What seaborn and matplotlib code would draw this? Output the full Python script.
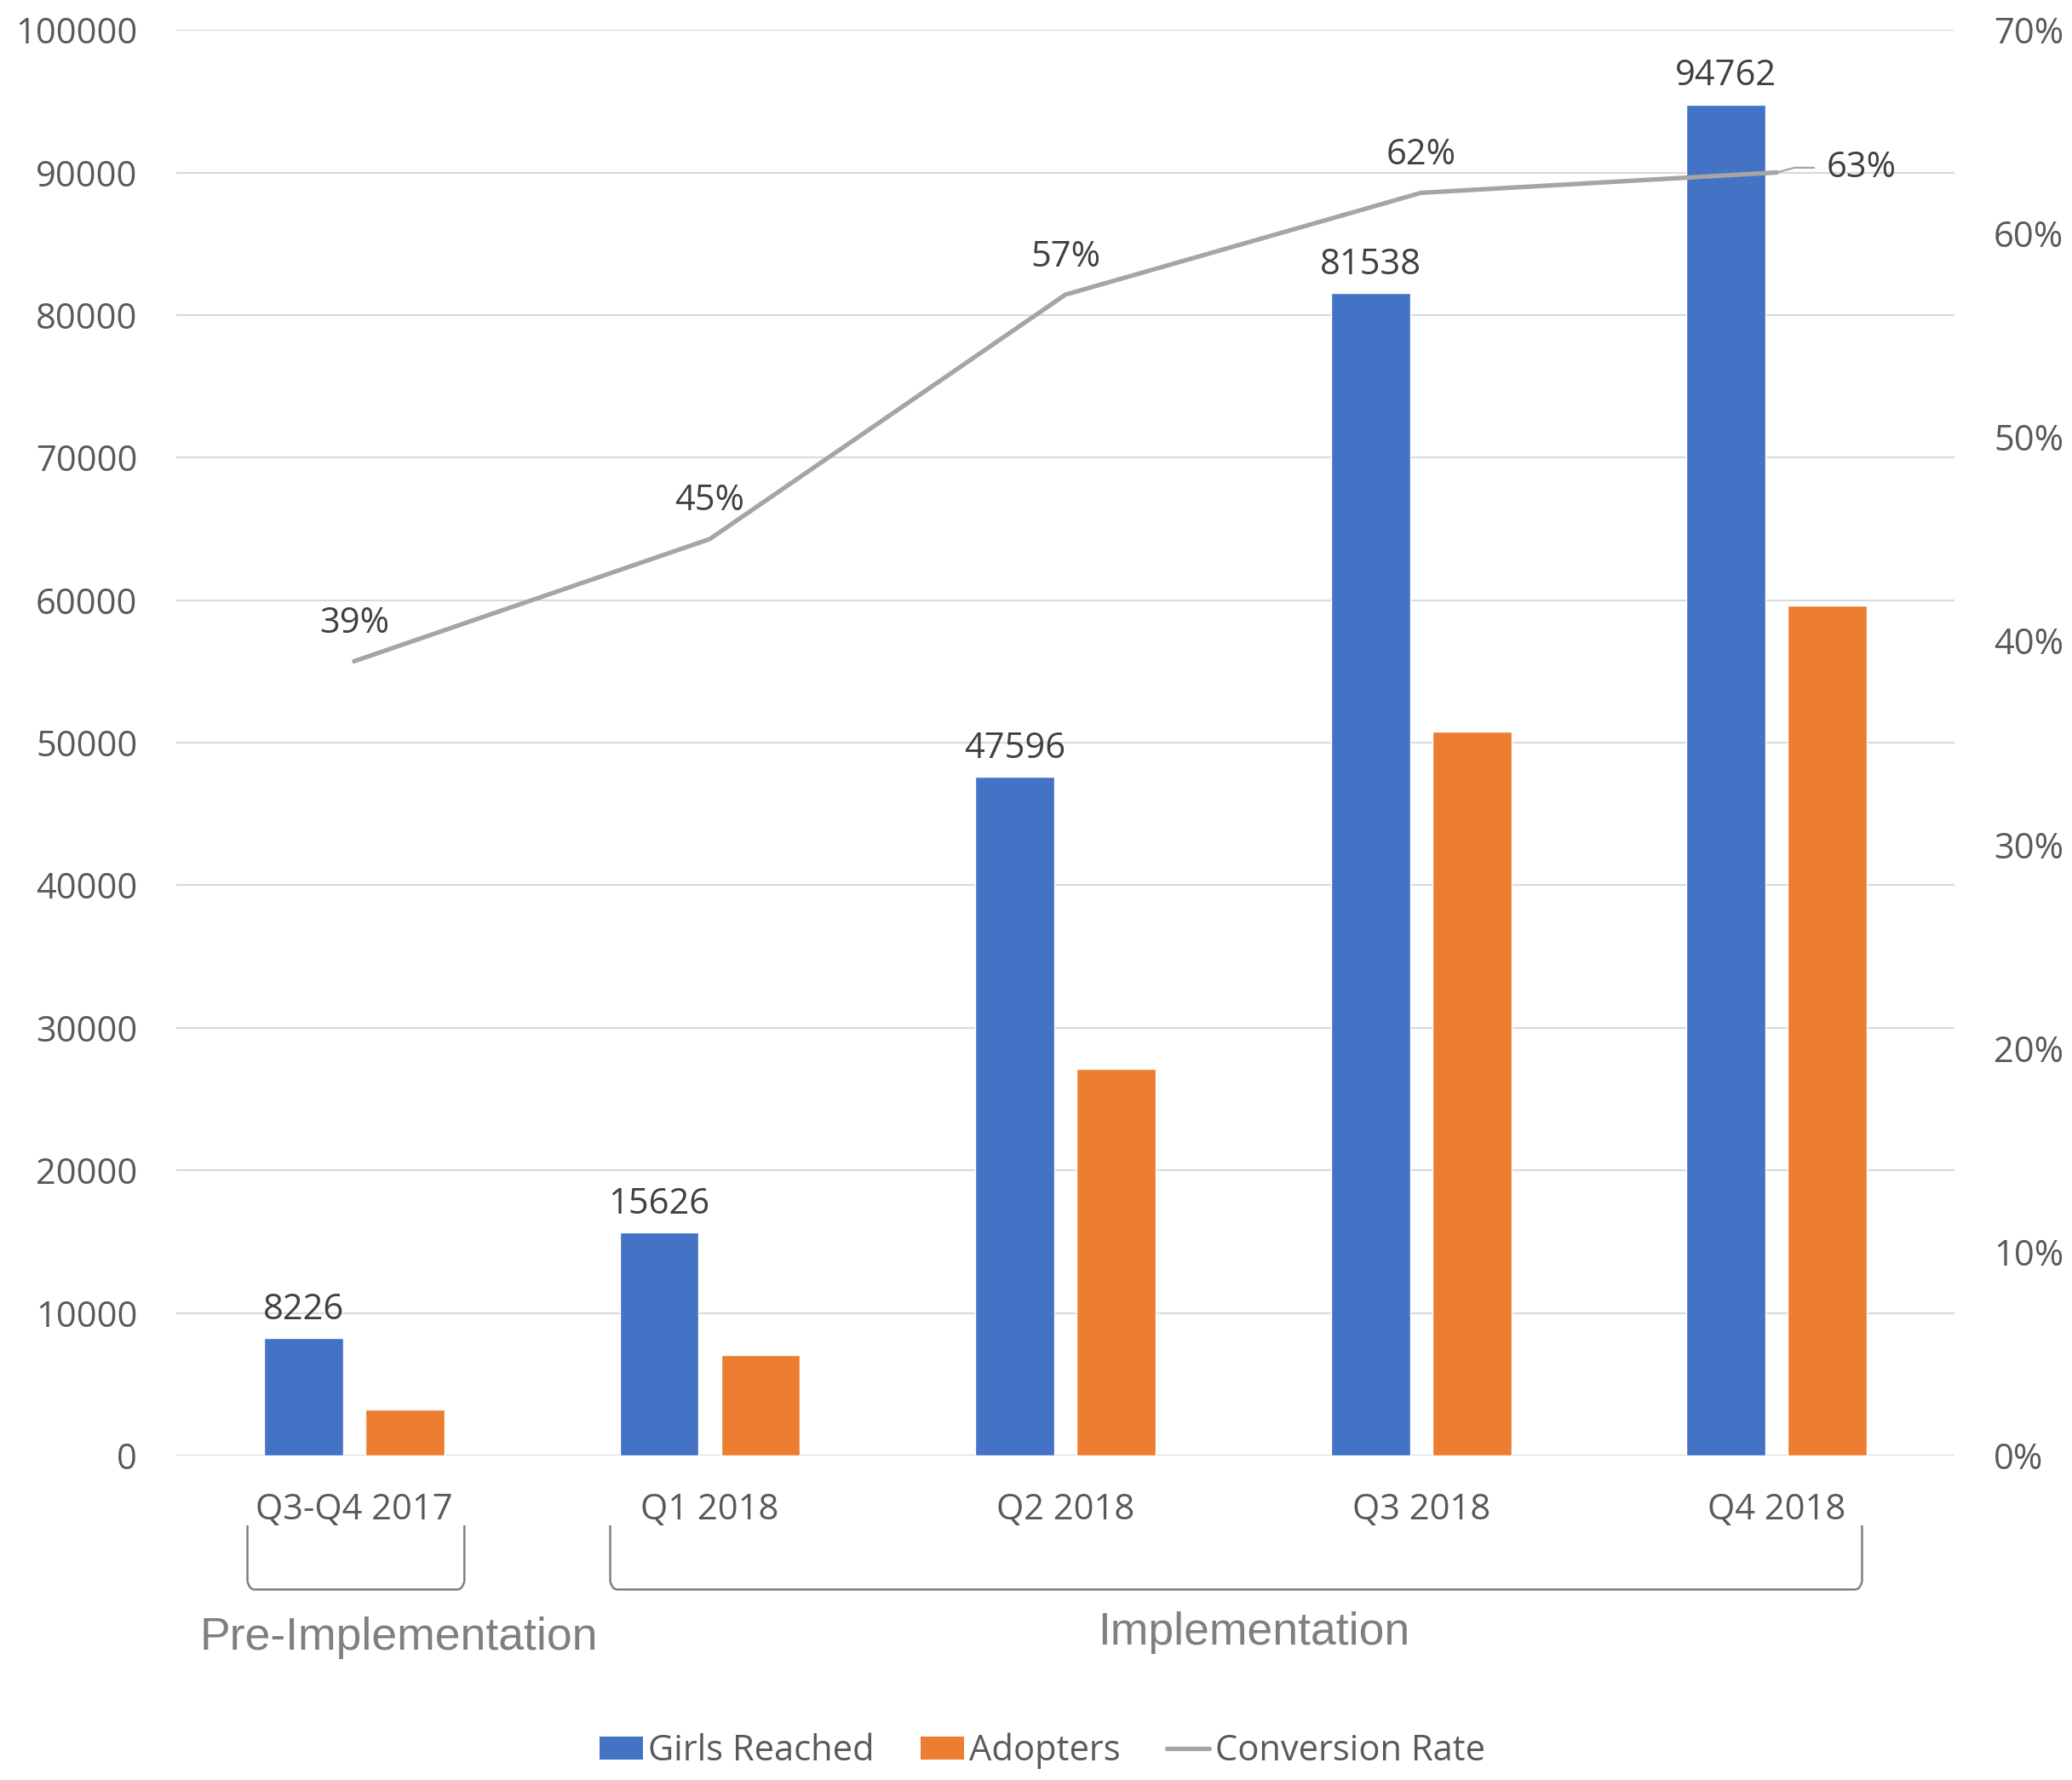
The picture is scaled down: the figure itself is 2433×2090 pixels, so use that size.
import matplotlib
matplotlib.use("Agg")
import matplotlib.pyplot as plt
import numpy as np
import pandas as pd
import seaborn as sns
from matplotlib.lines import Line2D
from matplotlib.patches import Patch, PathPatch
from matplotlib.path import Path
from matplotlib.transforms import blended_transform_factory

CATEGORIES = ["Q3-Q4 2017", "Q1 2018", "Q2 2018", "Q3 2018", "Q4 2018"]
GIRLS_REACHED = [8226, 15626, 47596, 81538, 94762]
ADOPTERS = [3210, 7030, 27150, 50800, 59650]
CONVERSION_RATE = [0.39, 0.45, 0.57, 0.62, 0.63]
SERIES = ["Girls Reached", "Adopters", "Conversion Rate"]
# phase name, first category index, last category index
PHASES = [("Pre-Implementation", 0, 0), ("Implementation", 1, 4)]

BLUE = "#4472C4"
ORANGE = "#ED7D31"
GRAY = "#A5A5A5"
TICK_COLOR = "#595959"
LABEL_COLOR = "#404040"
PHASE_COLOR = "#7F7F7F"
GRID_COLOR = "#D9D9D9"

sns.set_theme(style="white")
plt.rcParams["font.family"] = ["Open Sans", "DejaVu Sans"]

bars = pd.DataFrame({
    "quarter": CATEGORIES * 2,
    "series": [SERIES[0]] * len(CATEGORIES) + [SERIES[1]] * len(CATEGORIES),
    "value": GIRLS_REACHED + ADOPTERS,
})

fig = plt.figure(figsize=(24.33, 20.9), dpi=100)
ax = fig.add_axes([0.0851, 0.1823, 0.8582, 0.8009])

sns.barplot(
    data=bars, x="quarter", y="value", hue="series",
    palette=[BLUE, ORANGE], width=0.57, gap=0.22,
    order=CATEGORIES, hue_order=SERIES[:2],
    legend=False, ax=ax, saturation=1,
)
ax.set_xlim(-0.5, len(CATEGORIES) - 0.5)
ax.set_ylim(0, 100000)
ax.set_yticks(np.arange(0, 100001, 10000))
ax.set_yticklabels([str(v) for v in range(0, 100001, 10000)])
ax.set_xlabel("")
ax.set_ylabel("")
ax.yaxis.grid(True, color=GRID_COLOR, linewidth=1.5)
ax.set_axisbelow(True)
for s in ax.spines.values():
    s.set_visible(False)
ax.tick_params(axis="y", length=0, pad=33, labelsize=30, labelcolor=TICK_COLOR)
ax.tick_params(axis="x", length=0, pad=31, labelsize=30, labelcolor=TICK_COLOR)

ax.bar_label(ax.containers[0], labels=[str(v) for v in GIRLS_REACHED],
             padding=9, fontsize=30, color=LABEL_COLOR)

# conversion rate on secondary axis
ax2 = ax.twinx()
x_pos = np.arange(len(CATEGORIES))
sns.lineplot(x=x_pos, y=CONVERSION_RATE, color=GRAY, linewidth=3.8, ax=ax2, legend=False)
ax2.set_ylim(0, 0.7)
ax2.set_yticks(np.arange(0, 0.71, 0.1))
ax2.set_yticklabels([f"{int(round(v * 100))}%" for v in np.arange(0, 0.71, 0.1)])
ax2.set_ylabel("")
for s in ax2.spines.values():
    s.set_visible(False)
ax2.tick_params(axis="y", length=0, pad=33, labelsize=30, labelcolor=TICK_COLOR)

for i, r in enumerate(CONVERSION_RATE):
    if i < len(CONVERSION_RATE) - 1:
        ax2.annotate(f"{int(round(r * 100))}%", (x_pos[i], r), xytext=(0, 32),
                     textcoords="offset points", ha="center", va="center",
                     fontsize=30, color=LABEL_COLOR)
    else:
        ax2.annotate(f"{int(round(r * 100))}%", (x_pos[i], r), xytext=(42, 4),
                     textcoords="offset points", ha="left", va="center",
                     fontsize=30, color=LABEL_COLOR,
                     arrowprops=dict(arrowstyle="-", color=GRAY, lw=1.6,
                                     shrinkA=8, shrinkB=0,
                                     connectionstyle="angle,angleA=0,angleB=15,rad=0"))

# phase brackets under the category labels
trans = blended_transform_factory(ax.transData, ax.transAxes)
for name, start, end in PHASES:
    x0 = start - 0.30 if start == 0 else start - 0.28
    x1 = end + 0.31 if start == 0 else end + 0.24
    y_top = -0.049
    y_bot = -0.094
    r = 0.02
    verts = [
        (x0, y_top), (x0, y_bot + 0.006), (x0 + 0.005, y_bot), (x0 + r, y_bot),
        (x1 - r, y_bot), (x1 - 0.005, y_bot), (x1, y_bot + 0.006), (x1, y_top),
    ]
    codes = [Path.MOVETO, Path.LINETO, Path.CURVE3, Path.CURVE3,
             Path.LINETO, Path.CURVE3, Path.CURVE3, Path.LINETO]
    ax.add_patch(PathPatch(Path(verts, codes), fill=False, edgecolor="#808080",
                           lw=1.8, transform=trans, clip_on=False))
    label_x = (x0 + x1) / 2 + (0.12 if start == 0 else 0.05)
    label_y = -0.128 if start == 0 else -0.124
    ax.text(label_x, label_y, name, transform=trans, ha="center", va="center",
            fontsize=38.5, color=PHASE_COLOR, family=["Liberation Sans", "DejaVu Sans"])

handles = [
    Patch(facecolor=BLUE, edgecolor="none"),
    Patch(facecolor=ORANGE, edgecolor="none"),
    Line2D([0], [0], color=GRAY, linewidth=3.8),
]
leg = fig.legend(handles, SERIES, loc="center", bbox_to_anchor=(0.503, 0.0165),
                 ncol=3, frameon=False, fontsize=30, handlelength=1.22,
                 handleheight=0.62, handletextpad=0.15, columnspacing=1.3)
for t in leg.get_texts():
    t.set_color(TICK_COLOR)

fig.savefig("out.png", dpi=100)
